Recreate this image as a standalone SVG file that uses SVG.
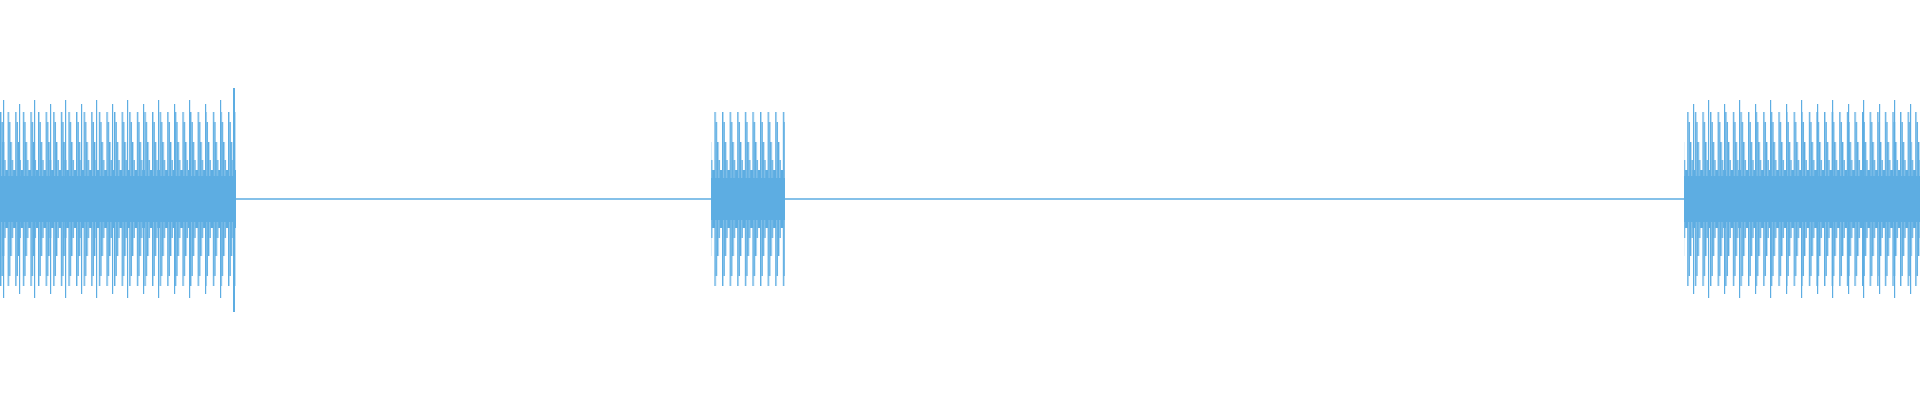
<svg xmlns="http://www.w3.org/2000/svg" width="1920" height="400" viewBox="0 0 1920 400">
<style>.w{fill:#5dade2}</style>
<defs>
<pattern id="p" patternUnits="userSpaceOnUse" x="0" y="0" width="7.6" height="400">
<rect class="w" x="0" y="112" width="1.4" height="174"/>
<rect class="w" x="1.4" y="122" width="1.4" height="154"/>
<rect class="w" x="2.8" y="142" width="1.4" height="114"/>
<rect class="w" x="4.2" y="160" width="1.4" height="78"/>
<rect class="w" x="5.6" y="170" width="2" height="58"/>
</pattern>
<pattern id="q" patternUnits="userSpaceOnUse" x="3" y="0" width="31" height="400">
<rect class="w" x="0" y="100" width="1.2" height="198"/>
<rect class="w" x="16" y="104" width="1.2" height="190"/>
</pattern>
</defs>
<g id="baseline"><line x1="236" y1="199" x2="1684" y2="199" stroke="#5dade2" stroke-width="1.5"/></g>
<g id="burst1">
<rect x="0" y="100" width="236" height="200" fill="url(#p)"/>
<rect x="0" y="100" width="236" height="200" fill="url(#q)"/>
<rect class="w" x="0" y="176" width="236" height="46"/>
<rect class="w" x="233" y="88" width="2" height="224"/>
</g>
<g id="burst2">
<rect x="711" y="100" width="74" height="200" fill="url(#p)"/>
<rect class="w" x="711" y="178" width="74" height="42"/>
</g>
<g id="burst3">
<rect x="1684" y="100" width="236" height="200" fill="url(#p)"/>
<rect x="1684" y="90" width="236" height="220" fill="url(#q)"/>
<rect class="w" x="1684" y="176" width="236" height="46"/>
</g>
</svg>
